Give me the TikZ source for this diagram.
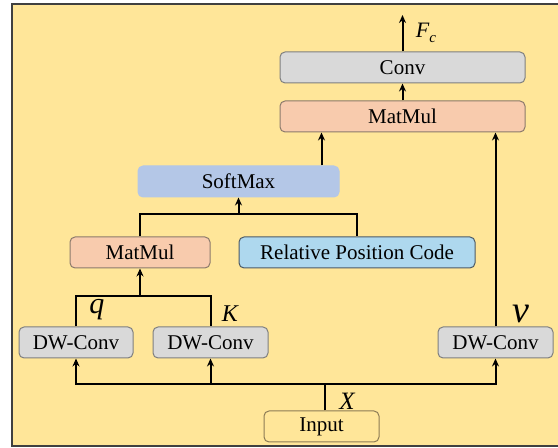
\documentclass[tikz,border=0pt]{standalone}
\usepackage{fontspec}
\setmainfont{Liberation Serif}
\usetikzlibrary{arrows.meta,positioning,calc}
\definecolor{PanelYellow}{HTML}{FFE699}
\definecolor{PanelLine}{HTML}{404040}
\definecolor{OpGray}{HTML}{D9D9D9}
\definecolor{OpGrayLine}{HTML}{7F7F7F}
\definecolor{OpSalmon}{HTML}{F8CBAD}
\definecolor{OpSalmonLine}{HTML}{8C7A6B}
\definecolor{OpBlue}{HTML}{B4C7E7}
\definecolor{OpSky}{HTML}{AED8EE}
\definecolor{OpSkyLine}{HTML}{4D5B66}
\definecolor{InLine}{HTML}{8C7B55}

\tikzset{
  opbox/.style={rounded corners=2.5pt,line width=0.5pt,minimum height=15.5pt,
    inner sep=1pt,align=center,font=\fontsize{10.5}{12}\selectfont},
  graybox/.style={opbox,fill=OpGray,draw=OpGrayLine},
  salmonbox/.style={opbox,fill=OpSalmon,draw=OpSalmonLine},
  flow/.style={line width=1pt,black},
  uparrow/.style={flow,-{Stealth[length=4pt,width=3.5pt]}},
  varlabel/.style={inner sep=0pt,font=\itshape}
}

\begin{document}
\begin{tikzpicture}[x=0.5pt,y=-0.5pt]
    \useasboundingbox (0,0) rectangle (558,448);
    \fill[PanelYellow] (12,4) rectangle (558,446);
    \draw[PanelLine,line width=0.7pt] (558,4) -- (12,4) -- (12,446) -- (558,446);

    % attention branch
    \node[graybox,minimum width=122.5pt] (conv) at (402.5,67.5) {Conv};
    \node[salmonbox,minimum width=122.5pt] (mmout) at (402.5,116.5) {MatMul};
    \node[opbox,fill=OpBlue,draw=OpBlue,minimum width=100.5pt] (soft) at (238.5,181.5) {SoftMax};
    \node[salmonbox,minimum width=70pt] (mmqk) at (140,252.5) {MatMul};
    \node[opbox,fill=OpSky,draw=OpSkyLine,minimum width=118pt] (rpc) at (357,252.5) {Relative Position Code};

    % projections
    \node[graybox,minimum width=57pt] (dwq) at (76,342.5) {DW-Conv};
    \node[graybox,minimum width=57.5pt] (dwk) at (210.5,342.5) {DW-Conv};
    \node[graybox,minimum width=57.5pt] (dwv) at (495.5,342.5) {DW-Conv};
    \node[opbox,fill=PanelYellow,draw=InLine,minimum width=57.5pt] (input) at (321.5,426.5) {Input};

    \coordinate (out) at (402.5,15);
    \coordinate (jsoft) at (238.5,214);
    \coordinate (jqk) at (140,296);
    \coordinate (jx) at (325,384);

    \draw[flow] (input.north -| jx) -- (jx);
    \draw[uparrow] (jx) -| (dwq.south);
    \draw[uparrow] (jx) -| (dwk.south);
    \draw[uparrow] (jx) -| (dwv.south);
    \draw[flow] (dwq.north) |- (jqk) -| (dwk.north);
    \draw[uparrow] (jqk) -- (mmqk.south);
    \draw[flow] (mmqk.north) |- (jsoft) -| (rpc.north);
    \draw[uparrow] (jsoft) -- (soft.south);
    \draw[uparrow] ([xshift=-9pt]soft.north east) -- ([xshift=-9pt]soft.north east |- mmout.south);
    \draw[uparrow] (dwv.north) -- (dwv.north |- mmout.south);
    \draw[uparrow] (mmout.north) -- (conv.south);
    \draw[uparrow] (conv.north) -- (out);

    % variable names
    \node[varlabel,font=\fontsize{11}{12}\selectfont\itshape] (lfc) at (426,33) {F\raisebox{-0.45ex}{\fontsize{7.5}{8}\selectfont c}};
    \node[varlabel,font=\fontsize{15}{16}\selectfont\itshape] (lq) at (97,310) {q};
    \node[varlabel,font=\fontsize{12}{13}\selectfont\itshape] (lk) at (230,314) {K};
    \node[varlabel,font=\fontsize{19}{20}\selectfont\itshape] (lv) at (521,314) {v};
    \node[varlabel,font=\fontsize{12.5}{13}\selectfont\itshape] (lx) at (347,401) {X};
  \end{tikzpicture}
\end{document}
